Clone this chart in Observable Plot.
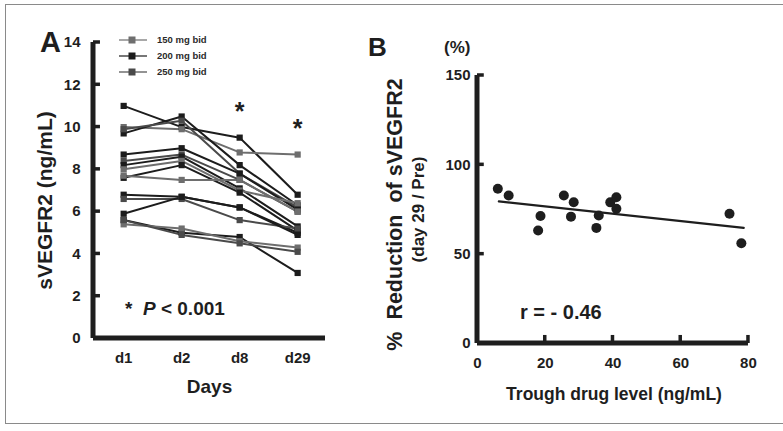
<!DOCTYPE html>
<html>
<head>
<meta charset="utf-8">
<script src="https://cdn.jsdelivr.net/npm/d3@7"></script>
<script src="https://cdn.jsdelivr.net/npm/@observablehq/plot@0.6"></script>
<style>
  html, body { margin: 0; padding: 0; background: #fff; }
  body { width: 783px; height: 431px; overflow: hidden; font-family: "Liberation Sans", Arial, sans-serif; }
  #wrap { position: relative; width: 783px; height: 431px; }
  .abs { position: absolute; z-index: 3; font-weight: bold; color: #1e1e1e; white-space: nowrap; line-height: 1; }
  #border { position: absolute; z-index: 0; left: 5px; top: 4px; width: 790px; height: 420px; border: 1px solid #8a8a8a; box-sizing: border-box; pointer-events: none; }
  #panelA { position: absolute; z-index: 2; left: 0; top: 0; }
  #panelB { position: absolute; z-index: 1; left: 340px; top: 0; }
  .leg { position: absolute; z-index: 3; left: 119px; display: flex; align-items: center; font-size: 9.5px; font-weight: bold; color: #2a2a2a; }
  .leg svg { margin-right: 10px; }
</style>
</head>
<body>
<div id="wrap">
  <div id="border"></div>
  <div id="panelA"></div>
  <div id="panelB"></div>
</div>
<script>
// ---------- Panel A data ----------
const days = ["d1", "d2", "d8", "d29"];
const doseLabels = ["150 mg bid", "200 mg bid", "250 mg bid"];
const doseColors = ["#6e6e6e", "#1c1c1c", "#4a4a4a"];
const patientDose = ["200 mg bid","150 mg bid","200 mg bid","250 mg bid","200 mg bid","250 mg bid","200 mg bid","150 mg bid","200 mg bid","150 mg bid","200 mg bid","250 mg bid","200 mg bid","200 mg bid","150 mg bid","250 mg bid"];
const valD1  = [11.0, 10.0, 9.7, 9.9, 8.7, 8.4, 8.2, 8.0, 7.6, 7.7, 6.8, 6.6, 5.9, 5.6, 5.4, 5.6];
const valD2  = [10.0, 9.9, 10.5, 10.3, 9.0, 8.7, 8.6, 8.4, 8.2, 7.5, 6.7, 6.6, 6.7, 5.0, 5.2, 4.9];
const valD8  = [9.5, 8.8, 8.2, 7.8, 7.8, 7.5, 7.1, 7.0, 6.9, 7.5, 6.2, 5.6, 6.2, 4.8, 4.6, 4.5];
const valD29 = [6.8, 8.7, 6.3, 6.2, 6.1, 6.0, 5.3, 6.4, 5.1, 6.0, 5.0, 5.2, 4.9, 3.1, 4.3, 4.1];
const yTicksA = [0, 2, 4, 6, 8, 10, 12, 14];
const starsA = [{day: 2, v: 10.7}, {day: 3, v: 9.9}];

// ---------- Panel B data ----------
const troughLevel = [6.0, 9.2, 17.9, 18.6, 25.5, 27.6, 28.4, 35.1, 35.8, 39.2, 41.0, 41.0, 74.4, 77.9];
const reductionPct = [86.6, 82.8, 63.2, 71.4, 82.8, 71.0, 79.1, 64.7, 71.6, 79.0, 81.9, 75.4, 72.6, 56.1];
const fitX = [6.3, 78.6];
const fitY = [79.5, 64.7];
const xTicksB = [0, 20, 40, 60, 80];
const yTicksB = [0, 50, 100, 150];

// scale domains
const xDomA = [-0.52, 3.48];
const yDomA = [0, 14];
const xDomB = [0, 80.6];
const yDomB = [0, 150];

// build table for A
const seriesA = [];
const valsByDay = [valD1, valD2, valD8, valD29];
patientDose.forEach((dose, p) => {
  valsByDay.forEach((arr, i) => seriesA.push({patient: p, dose, day: i, v: arr[p]}));
});

const ink = "#1e1e1e";
const fontFam = '"Liberation Sans", Arial, sans-serif';
const nb = "\u00a0";

// axis lines and ticks as filled rects (thickness via negative insets)
const hA = {x1: xDomA[0], x2: xDomA[1], y1: yDomA[0], y2: yDomA[0]};
const vA = {x1: xDomA[0], x2: xDomA[0], y1: yDomA[0], y2: yDomA[1]};
const ticksA = yTicksA.filter(d => d > 0).map(d => ({x1: xDomA[0], x2: xDomA[0] + 0.12, y1: d, y2: d}));
const hB = {x1: xDomB[0], x2: 80, y1: yDomB[0], y2: yDomB[0]};
const vB = {x1: xDomB[0], x2: xDomB[0], y1: yDomB[0], y2: yDomB[1]};
const hTicksB = yTicksB.filter(d => d > 0).map(d => ({x1: 0, x2: 2, y1: d, y2: d}));
const vTicksB = xTicksB.filter(d => d > 0).map(d => ({x1: d, x2: d, y1: 0, y2: 4.5}));
const ch = {x1: "x1", x2: "x2", y1: "y1", y2: "y2", fill: ink};
const hBar = w => ({...ch, insetTop: -w / 2, insetBottom: -w / 2});
const vBar = w => ({...ch, insetLeft: -w / 2, insetRight: -w / 2});

const plotA = Plot.plot({
  width: 390, height: 431,
  marginLeft: 93, marginRight: 65, marginTop: 42, marginBottom: 93,
  style: {fontFamily: fontFam, fontWeight: "bold", color: ink, background: "transparent"},
  x: {type: "linear", domain: xDomA},
  y: {domain: yDomA},
  color: {domain: doseLabels, range: doseColors},
  marks: [
    Plot.axisY({ticks: yTicksA, tickSize: 0, tickPadding: 13, fontSize: 15, label: null}),
    Plot.axisX({ticks: [0, 1, 2, 3], tickFormat: i => days[i], tickSize: 0, tickPadding: 14, fontSize: 15, label: null}),
    Plot.lineY(seriesA, {x: "day", y: "v", z: "patient", stroke: "dose", strokeWidth: 2}),
    Plot.dot(seriesA, {x: "day", y: "v", symbol: "square", fill: "dose", r: 3.5}),
    Plot.text(starsA, {x: "day", y: "v", text: () => "*", fontSize: 25, fill: ink}),
    Plot.text(["sVEGFR2 (ng/mL)"], {frameAnchor: "left", textAnchor: "middle", dx: -48, dy: 10, rotate: -90, fontSize: 21, fill: ink}),
    Plot.text(["Days"], {frameAnchor: "bottom", dy: 54, fontSize: 19, fill: ink}),
    Plot.rect(ticksA, hBar(3.5)),
    Plot.rect([hA], hBar(5)),
    Plot.rect([vA], vBar(5))
  ]
});
document.getElementById("panelA").appendChild(plotA);

const plotB = Plot.plot({
  width: 443, height: 431,
  marginLeft: 137, marginRight: 33, marginTop: 75, marginBottom: 88,
  style: {fontFamily: fontFam, fontWeight: "bold", color: ink, background: "transparent"},
  x: {domain: xDomB},
  y: {domain: yDomB},
  marks: [
    Plot.axisY({ticks: yTicksB, tickSize: 0, tickPadding: 7, fontSize: 15, label: null}),
    Plot.axisX({ticks: xTicksB, tickSize: 0, tickPadding: 14, fontSize: 15, label: null}),
    Plot.line(fitX.map((x, i) => ({x, y: fitY[i]})), {x: "x", y: "y", stroke: ink, strokeWidth: 2.2}),
    Plot.dot(troughLevel.map((x, i) => ({x, y: reductionPct[i]})), {x: "x", y: "y", r: 5, fill: ink}),
    Plot.text([`%${nb}${nb}Reduction${nb}${nb}of sVEGFR2`], {frameAnchor: "left", textAnchor: "middle", dx: -82, dy: 5, rotate: -90, fontSize: 21.5, fill: ink}),
    Plot.text(["(day 29 / Pre)"], {frameAnchor: "left", textAnchor: "middle", dx: -59, rotate: -90, fontSize: 17, fill: ink}),
    Plot.text(["Trough drug level (ng/mL)"], {frameAnchor: "bottom", dy: 56, fontSize: 17.5, fill: ink}),
    Plot.rect(hTicksB, hBar(3.5)),
    Plot.rect(vTicksB, vBar(3.5)),
    Plot.rect([hB], hBar(5)),
    Plot.rect([vB], vBar(5))
  ]
});
document.getElementById("panelB").appendChild(plotB);

// overlays: panel letters, annotations, legend
const wrap = document.getElementById("wrap");
function addText(html, left, top, size) {
  const d = document.createElement("div");
  d.className = "abs";
  d.innerHTML = html;
  d.style.left = left + "px";
  d.style.top = top + "px";
  d.style.fontSize = size + "px";
  wrap.appendChild(d);
}
addText("A", 40, 28, 29);
addText("B", 368, 34, 26);
addText("(%)", 444, 39, 17);
addText("*&nbsp;&nbsp;<i>P</i> &lt; 0.001", 125, 299, 19);
addText("r = - 0.46", 520, 302, 20);

const legTops = [34, 50, 66];
doseLabels.forEach((lab, i) => {
  const d = document.createElement("div");
  d.className = "leg";
  d.style.top = legTops[i] + "px";
  d.innerHTML = `<svg width="28" height="10"><path d="M0,5H28" stroke="${doseColors[i]}" stroke-width="1.2"/><rect x="9.5" y="1.5" width="7" height="7" fill="${doseColors[i]}"/></svg>${lab}`;
  wrap.appendChild(d);
});
</script>
</body>
</html>
